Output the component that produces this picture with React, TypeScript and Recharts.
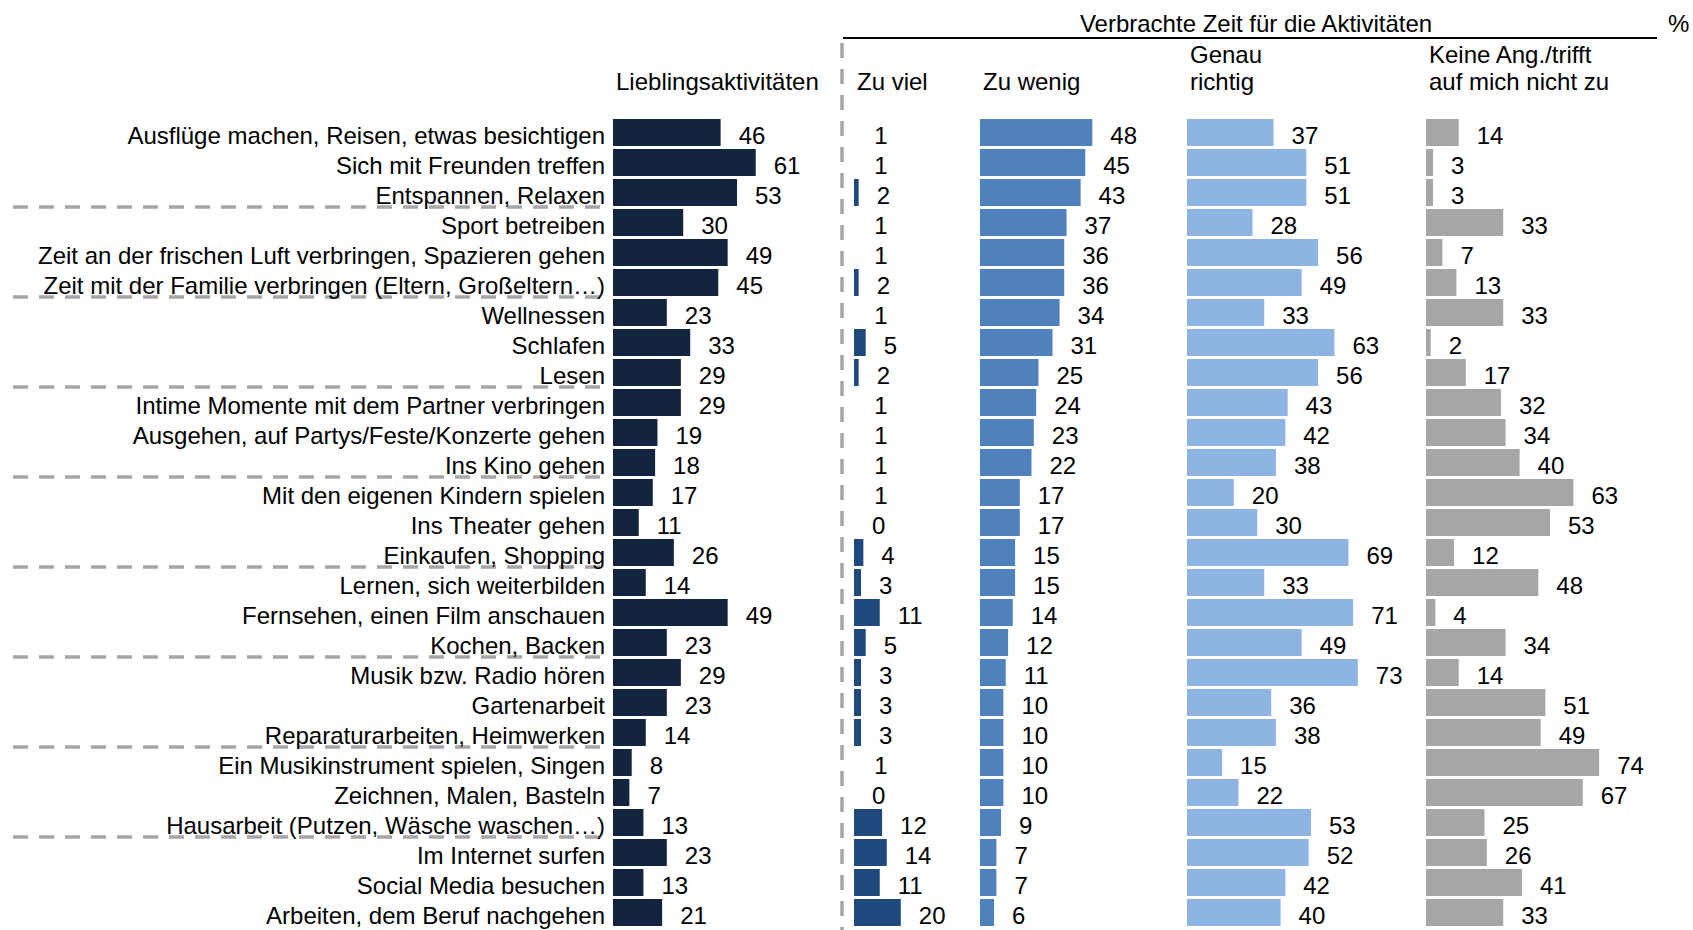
import { BarChart, Bar, XAxis, YAxis, LabelList } from "recharts"

const FONT = '"Liberation Sans", Arial, sans-serif'

const categories = [
  "Ausflüge machen, Reisen, etwas besichtigen",
  "Sich mit Freunden treffen",
  "Entspannen, Relaxen",
  "Sport betreiben",
  "Zeit an der frischen Luft verbringen, Spazieren gehen",
  "Zeit mit der Familie verbringen (Eltern, Großeltern…)",
  "Wellnessen",
  "Schlafen",
  "Lesen",
  "Intime Momente mit dem Partner verbringen",
  "Ausgehen, auf Partys/Feste/Konzerte gehen",
  "Ins Kino gehen",
  "Mit den eigenen Kindern spielen",
  "Ins Theater gehen",
  "Einkaufen, Shopping",
  "Lernen, sich weiterbilden",
  "Fernsehen, einen Film anschauen",
  "Kochen, Backen",
  "Musik bzw. Radio hören",
  "Gartenarbeit",
  "Reparaturarbeiten, Heimwerken",
  "Ein Musikinstrument spielen, Singen",
  "Zeichnen, Malen, Basteln",
  "Hausarbeit (Putzen, Wäsche waschen…)",
  "Im Internet surfen",
  "Social Media besuchen",
  "Arbeiten, dem Beruf nachgehen",
]

const lieblings = [46, 61, 53, 30, 49, 45, 23, 33, 29, 29, 19, 18, 17, 11, 26, 14, 49, 23, 29, 23, 14, 8, 7, 13, 23, 13, 21]
const zuViel = [1, 1, 2, 1, 1, 2, 1, 5, 2, 1, 1, 1, 1, 0, 4, 3, 11, 5, 3, 3, 3, 1, 0, 12, 14, 11, 20]
const zuWenig = [48, 45, 43, 37, 36, 36, 34, 31, 25, 24, 23, 22, 17, 17, 15, 15, 14, 12, 11, 10, 10, 10, 10, 9, 7, 7, 6]
const genauRichtig = [37, 51, 51, 28, 56, 49, 33, 63, 56, 43, 42, 38, 20, 30, 69, 33, 71, 49, 73, 36, 38, 15, 22, 53, 52, 42, 40]
const keineAngabe = [14, 3, 3, 33, 7, 13, 33, 2, 17, 32, 34, 40, 63, 53, 12, 48, 4, 34, 14, 51, 49, 74, 67, 25, 26, 41, 33]

const data = categories.map((name, i) => ({
  name,
  lieblings: lieblings[i],
  zuViel: zuViel[i],
  zuWenig: zuWenig[i],
  genauRichtig: genauRichtig[i],
  keineAngabe: keineAngabe[i],
}))

const PX_PER_UNIT = 2.34
const ROW_H = 30
const PLOT_TOP = 117
const CHART_H = PLOT_TOP + ROW_H * categories.length + 3
const LABEL_ROOM = 60

const columns = [
  { key: "lieblings", color: "#13243F", left: 613, max: 100, title: ["Lieblingsaktivitäten"] },
  { key: "zuViel", color: "#1F497D", left: 854, max: 50, title: ["Zu viel"] },
  { key: "zuWenig", color: "#4F81BD", left: 980, max: 80, title: ["Zu wenig"] },
  { key: "genauRichtig", color: "#8EB4E3", left: 1187, max: 100, title: ["Genau", "richtig"] },
  { key: "keineAngabe", color: "#A6A6A6", left: 1426, max: 110, title: ["Keine Ang./trifft", "auf mich nicht zu"] },
]

const CategoryTick = (props: any) => {
  const { x, y, payload } = props
  const idx = payload.index ?? props.index
  const sep = (idx + 1) % 3 === 0 && idx < categories.length - 1
  return (
    <g>
      {sep && (
        <line x1={13} x2={x} y1={y + ROW_H / 2} y2={y + ROW_H / 2}
          stroke="#A6A6A6" strokeWidth={3.5} strokeDasharray="15 11" />
      )}
      <text x={x} y={y + 12} textAnchor="end" fontSize={24} fill="#000" fontFamily={FONT}>
        {payload.value}
      </text>
    </g>
  )
}

// very thin bars (rounded 1% values) are not visible in the original
const ThinBar = (props: any) => {
  const { x, y, width, height, fill } = props
  if (!(width >= 3)) return <g />
  return <rect x={x} y={y} width={width} height={height} fill={fill} />
}

const ValueLabel = (props: any) => {
  const { x, y, width, height, value } = props
  return (
    <text x={x + (width || 0) + 18} y={y + height / 2 + 11.5} fontSize={24} fill="#000" fontFamily={FONT}>
      {String(value)}
    </text>
  )
}

export default function App() {
  return (
    <div style={{ position: "absolute", left: 0, top: 0, width: 1693, height: 930, background: "#fff", fontFamily: FONT }}>
      <svg width={1693} height={930} style={{ position: "absolute", left: 0, top: 0 }}>
        <text x={1256} y={32} textAnchor="middle" fontSize={24} fontFamily={FONT}>Verbrachte Zeit für die Aktivitäten</text>
        <text x={1668} y={32} fontSize={24} fontFamily={FONT}>%</text>
        <line x1={843} x2={1657} y1={38} y2={38} stroke="#000" strokeWidth={2} />
        <line x1={842} x2={842} y1={43} y2={930} stroke="#A6A6A6" strokeWidth={3.5} strokeDasharray="15 11" />
        {columns.map((c) =>
          c.title.map((t, j) => (
            <text key={c.key + j} x={c.left + 3} y={90 - (c.title.length - 1 - j) * 27} fontSize={24} fontFamily={FONT}>{t}</text>
          ))
        )}
      </svg>
      {columns.map((c, ci) => {
        const plotW = c.max * PX_PER_UNIT
        const yWidth = ci === 0 ? c.left : 0
        return (
          <div key={c.key} style={{ position: "absolute", top: 0, left: ci === 0 ? 0 : c.left }}>
            <BarChart
              width={yWidth + plotW + LABEL_ROOM}
              height={CHART_H}
              data={data}
              layout="vertical"
              margin={{ top: PLOT_TOP, bottom: 3, left: 0, right: LABEL_ROOM }}
            >
              <XAxis type="number" domain={[0, c.max]} hide />
              {ci === 0 ? (
                <YAxis type="category" dataKey="name" width={yWidth} axisLine={false} tickLine={false}
                  tickSize={0} tickMargin={8} interval={0} tick={<CategoryTick />} />
              ) : (
                <YAxis type="category" dataKey="name" hide />
              )}
              <Bar dataKey={c.key} fill={c.color} barSize={27} minPointSize={0.01}
                shape={<ThinBar />} isAnimationActive={false}>
                <LabelList dataKey={c.key} content={<ValueLabel />} />
              </Bar>
            </BarChart>
          </div>
        )
      })}
    </div>
  )
}
